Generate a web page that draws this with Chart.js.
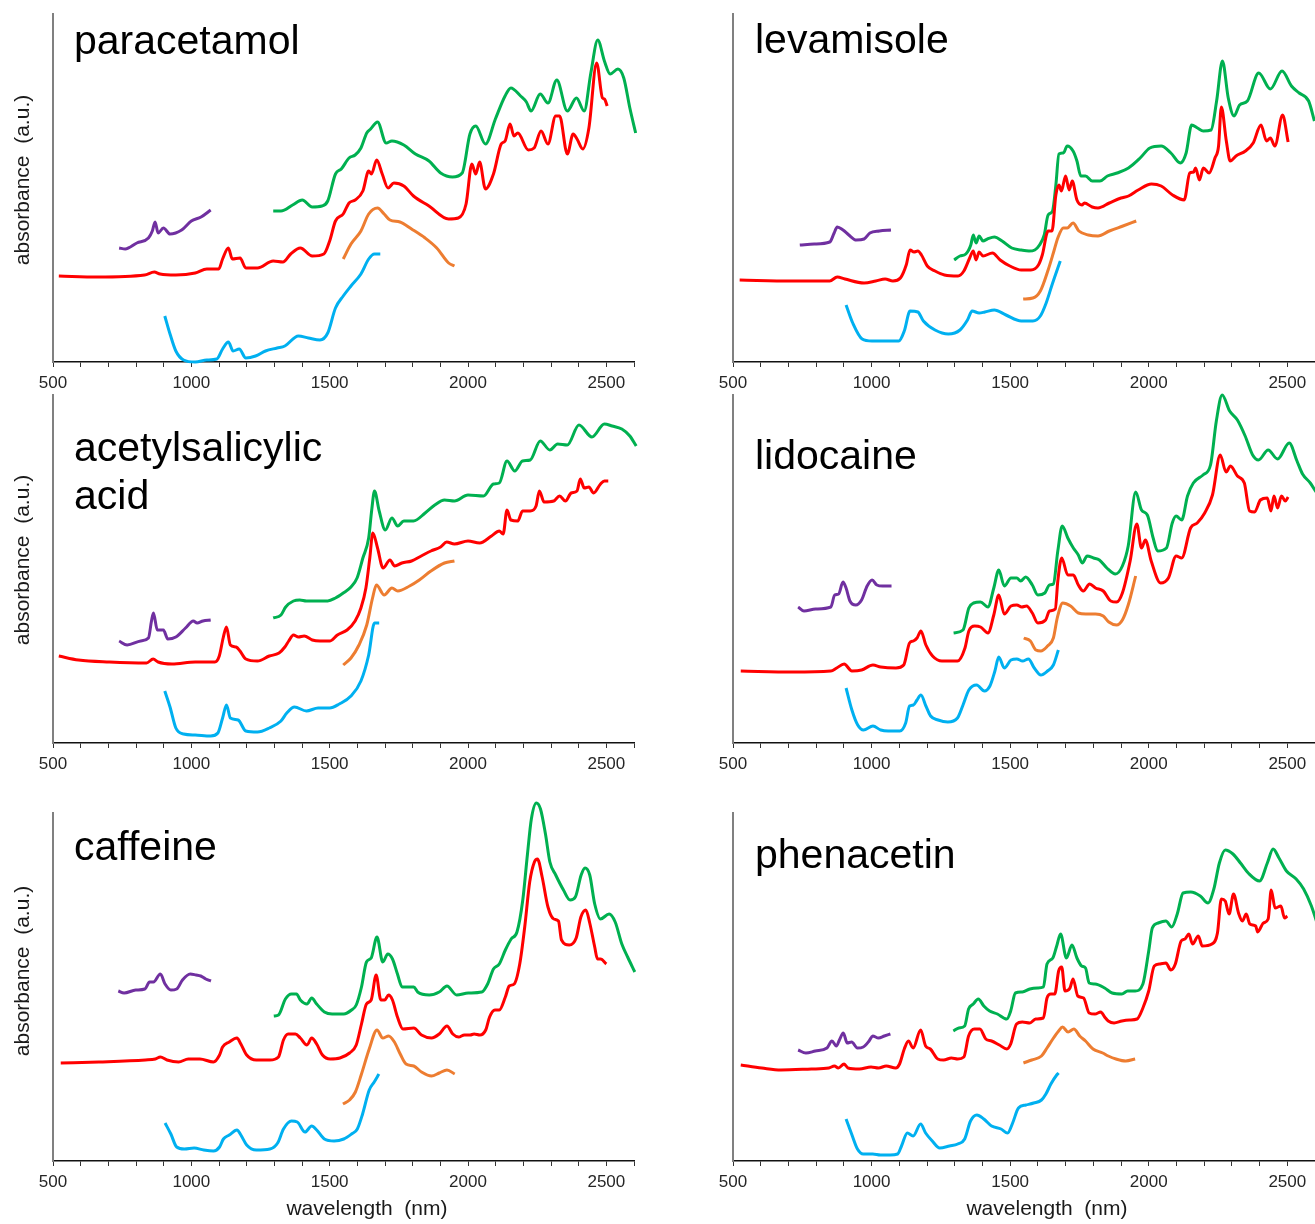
<!DOCTYPE html>
<html lang="en">
<head>
<meta charset="UTF-8">
<title>NIR spectra of six drugs</title>
<style>
    body { margin: 0; background: #fff; }
    #wrap { position: relative; width: 1315px; height: 1224px; overflow: hidden;
            font-family: "Liberation Sans", Arial, sans-serif; }
    canvas { position: absolute; }
    .name { position: absolute; font-size: 41px; line-height: 48px; color: #000; white-space: nowrap; }
    .ytitle { position: absolute; width: 240px; height: 24px; line-height: 24px; font-size: 21px;
              text-align: center; transform: rotate(-90deg); white-space: pre; color: #1a1a1a; }
    .xtitle { position: absolute; width: 240px; line-height: 24px; font-size: 21px;
              text-align: center; white-space: pre; color: #1a1a1a; }
</style>
<script src="https://cdn.jsdelivr.net/npm/chart.js"></script>
</head>
<body>
<div id="wrap">
    <canvas id="c1" width="625" height="400" style="left:25px;top:0px"></canvas>
    <canvas id="c2" width="616" height="400" style="left:705px;top:0px"></canvas>
    <canvas id="c3" width="625" height="400" style="left:25px;top:381px"></canvas>
    <canvas id="c4" width="616" height="400" style="left:705px;top:381px"></canvas>
    <canvas id="c5" width="625" height="400" style="left:25px;top:799px"></canvas>
    <canvas id="c6" width="616" height="400" style="left:705px;top:799px"></canvas>

    <div class="name" style="left:74px;top:16px">paracetamol</div>
    <div class="name" style="left:755px;top:15px">levamisole</div>
    <div class="name" style="left:74px;top:423px">acetylsalicylic<br>acid</div>
    <div class="name" style="left:755px;top:431px">lidocaine</div>
    <div class="name" style="left:74px;top:822px">caffeine</div>
    <div class="name" style="left:755px;top:830px">phenacetin</div>

    <div class="ytitle" style="left:-98px;top:168px">absorbance  (a.u.)</div>
    <div class="ytitle" style="left:-98px;top:548px">absorbance  (a.u.)</div>
    <div class="ytitle" style="left:-98px;top:959px">absorbance  (a.u.)</div>
    <div class="xtitle" style="left:247px;top:1196px">wavelength  (nm)</div>
    <div class="xtitle" style="left:927px;top:1196px">wavelength  (nm)</div>
</div>

<script>
// wavelength (nm), absorbance (a.u., offset)
const xTickLabels = [500, 1000, 1500, 2000, 2500];
const seriesColors = ['#7030A0', '#FF0000', '#00B050', '#ED7D31', '#00B0F0'];

// paracetamol
const paracetamolPurple = [[739,114],[761,113],[803,119],[845,124],[859,131],[869,140],[880,129],[899,134],[923,128],[965,132],[1000,141],[1035,145],[1070,152]];
const paracetamolRed = [[521,86],[662,85],[831,87],[866,90],[887,88],[944,87],[1014,89],[1056,93],[1099,93],[1113,103],[1134,114],[1148,103],[1176,104],[1197,94],[1239,94],[1296,101],[1331,100],[1359,108],[1394,114],[1437,106],[1479,108],[1500,121],[1521,141],[1549,148],[1570,159],[1592,162],[1620,171],[1641,191],[1651,188],[1670,202],[1690,188],[1711,174],[1732,179],[1768,176],[1803,166],[1859,156],[1930,143],[1965,144],[1993,158],[2014,198],[2028,188],[2042,200],[2063,173],[2092,188],[2120,218],[2134,221],[2152,238],[2166,226],[2180,229],[2218,212],[2239,214],[2264,231],[2289,218],[2317,246],[2331,246],[2359,208],[2380,228],[2394,223],[2415,213],[2437,234],[2465,299],[2486,264],[2493,263],[2503,256]];
const paracetamolGreen = [[1296,151],[1324,151],[1366,157],[1401,162],[1437,155],[1472,156],[1493,161],[1521,188],[1542,193],[1570,204],[1592,207],[1613,214],[1634,229],[1648,233],[1673,240],[1704,219],[1725,221],[1768,217],[1810,208],[1859,201],[1901,189],[1944,185],[1979,189],[2007,228],[2028,236],[2063,218],[2099,243],[2134,266],[2155,274],[2190,266],[2211,260],[2228,251],[2261,268],[2289,259],[2321,282],[2359,251],[2392,264],[2420,251],[2444,289],[2469,322],[2493,301],[2514,288],[2542,293],[2563,284],[2585,254],[2606,229]];
const paracetamolOrange = [[1549,103],[1577,118],[1613,131],[1641,148],[1673,154],[1697,148],[1718,142],[1754,140],[1796,133],[1845,124],[1887,114],[1930,99],[1951,96]];
const paracetamolBlue = [[904,46],[923,28],[944,11],[972,2],[1014,0],[1056,2],[1092,3],[1113,13],[1134,20],[1151,11],[1173,13],[1197,4],[1232,6],[1268,11],[1310,14],[1338,16],[1387,26],[1423,24],[1465,22],[1493,29],[1521,54],[1549,66],[1577,76],[1613,88],[1641,103],[1662,108],[1683,108]];

// levamisole
const levamisolePurple = [[741,117],[793,118],[849,120],[865,129],[876,135],[897,132],[918,127],[945,122],[973,123],[994,129],[1028,131],[1070,132]];
const levamisoleRed = [[524,82],[710,81],[849,81],[876,85],[904,83],[973,79],[1015,81],[1049,83],[1077,81],[1104,84],[1125,97],[1139,112],[1153,110],[1167,111],[1180,107],[1201,96],[1229,91],[1263,87],[1312,86],[1333,91],[1354,104],[1367,111],[1377,102],[1388,110],[1402,106],[1436,109],[1464,102],[1499,96],[1540,92],[1575,92],[1602,97],[1616,107],[1637,131],[1651,131],[1665,167],[1676,177],[1685,171],[1700,186],[1713,172],[1724,181],[1741,162],[1759,157],[1768,159],[1796,155],[1817,154],[1858,159],[1900,164],[1927,166],[1962,172],[2010,178],[2045,176],[2086,167],[2128,162],[2148,189],[2162,190],[2169,194],[2183,182],[2197,194],[2218,189],[2239,204],[2252,216],[2262,255],[2280,221],[2294,201],[2315,206],[2349,211],[2377,219],[2405,237],[2425,221],[2439,224],[2455,216],[2483,247],[2503,220]];
const levamisoleGreen = [[1298,102],[1319,106],[1340,108],[1358,117],[1367,127],[1377,119],[1388,126],[1402,121],[1418,123],[1443,125],[1471,121],[1506,114],[1540,112],[1568,111],[1589,112],[1606,117],[1623,127],[1637,147],[1653,151],[1665,177],[1676,208],[1692,209],[1706,216],[1727,211],[1741,201],[1755,186],[1772,186],[1796,181],[1824,181],[1851,186],[1886,189],[1927,194],[1969,204],[2004,214],[2045,216],[2080,209],[2114,199],[2135,209],[2155,237],[2176,234],[2197,231],[2225,232],[2245,261],[2266,301],[2287,264],[2308,246],[2328,257],[2356,261],[2397,289],[2439,273],[2481,291],[2515,276],[2543,269],[2577,261],[2598,241]];
const levamisoleOrange = [[1547,63],[1582,64],[1609,71],[1637,92],[1658,111],[1672,124],[1692,134],[1706,134],[1727,139],[1748,131],[1782,127],[1817,126],[1858,131],[1907,136],[1955,141]];
const levamisoleBlue = [[908,57],[932,39],[966,23],[1001,21],[1056,21],[1098,21],[1118,31],[1139,51],[1167,50],[1187,41],[1229,32],[1277,28],[1319,32],[1346,42],[1363,51],[1388,49],[1409,50],[1443,52],[1485,47],[1540,41],[1582,41],[1609,46],[1630,59],[1651,77],[1672,94],[1681,101]];

// acetylsalicylic acid
const asaPurple = [[739,102],[768,98],[817,102],[845,105],[856,122],[863,130],[877,113],[899,113],[915,104],[944,106],[979,115],[1007,122],[1021,120],[1042,122],[1070,123]];
const asaRed = [[521,87],[592,83],[704,81],[838,80],[862,84],[880,81],[930,79],[1014,81],[1085,81],[1101,87],[1115,105],[1127,116],[1141,98],[1162,96],[1176,92],[1197,84],[1239,82],[1282,87],[1317,90],[1338,96],[1352,102],[1369,108],[1387,106],[1408,107],[1437,103],[1465,102],[1500,102],[1528,108],[1563,113],[1592,122],[1613,135],[1631,155],[1645,185],[1656,210],[1673,195],[1693,175],[1718,183],[1735,177],[1761,180],[1796,182],[1831,187],[1866,192],[1901,196],[1923,201],[1951,199],[2000,202],[2042,200],[2085,207],[2113,212],[2127,209],[2141,233],[2155,223],[2180,222],[2197,232],[2225,232],[2246,237],[2258,252],[2275,241],[2310,242],[2331,247],[2352,242],[2373,250],[2394,252],[2406,264],[2420,255],[2437,256],[2454,250],[2479,259],[2493,262],[2507,262]];
const asaGreen = [[1296,125],[1324,128],[1341,136],[1369,142],[1392,143],[1416,142],[1451,142],[1493,142],[1521,145],[1549,150],[1577,156],[1599,165],[1620,185],[1641,205],[1652,233],[1662,252],[1679,232],[1701,213],[1725,225],[1746,217],[1768,222],[1803,222],[1845,230],[1880,238],[1915,243],[1951,242],[2000,248],[2056,247],[2092,259],[2113,260],[2141,282],[2169,272],[2197,282],[2225,283],[2261,302],[2296,293],[2324,299],[2359,298],[2401,318],[2448,306],[2493,319],[2521,317],[2556,314],[2585,307],[2608,297]];
const asaOrange = [[1549,78],[1577,85],[1606,98],[1634,118],[1655,145],[1669,158],[1697,148],[1725,155],[1746,152],[1789,157],[1824,163],[1866,172],[1915,180],[1951,182]];
const asaBlue = [[904,52],[923,36],[944,15],[972,9],[1014,8],[1070,7],[1096,10],[1113,25],[1127,38],[1141,25],[1169,23],[1197,12],[1239,11],[1282,15],[1324,22],[1345,30],[1373,36],[1416,32],[1458,35],[1500,35],[1535,39],[1577,47],[1613,62],[1641,88],[1662,120],[1679,120]];

// lidocaine
const lidoPurple = [[735,136],[756,132],[798,134],[853,136],[867,148],[881,149],[897,161],[908,155],[922,142],[943,138],[964,143],[984,157],[1002,163],[1019,158],[1040,157],[1072,157]];
const lidoRed = [[528,72],[715,71],[853,72],[874,75],[901,79],[929,72],[964,73],[1005,78],[1033,76],[1088,75],[1116,78],[1137,100],[1151,102],[1164,105],[1178,112],[1196,98],[1220,87],[1254,82],[1310,82],[1337,95],[1351,112],[1372,117],[1393,116],[1420,110],[1441,128],[1459,148],[1479,129],[1503,137],[1524,138],[1542,136],[1559,137],[1580,130],[1600,120],[1628,123],[1642,132],[1663,134],[1672,162],[1686,185],[1708,168],[1728,168],[1746,158],[1764,152],[1787,159],[1808,155],[1836,152],[1863,142],[1884,141],[1905,150],[1933,182],[1957,219],[1974,195],[1988,203],[2009,182],[2043,160],[2071,165],[2099,187],[2119,185],[2151,215],[2175,220],[2202,230],[2230,248],[2258,288],[2279,271],[2295,277],[2320,267],[2345,260],[2364,232],[2382,231],[2403,243],[2428,245],[2441,232],[2452,247],[2465,235],[2479,247],[2493,242],[2503,246]];
const lidoGreen = [[1296,110],[1330,113],[1351,135],[1368,140],[1393,141],[1420,136],[1441,155],[1459,173],[1479,157],[1503,165],[1524,165],[1538,162],[1556,166],[1580,158],[1600,148],[1625,150],[1642,158],[1656,159],[1672,192],[1688,217],[1708,205],[1728,195],[1746,188],[1760,180],[1778,187],[1801,185],[1822,183],[1849,175],[1880,169],[1905,177],[1926,197],[1953,251],[1974,233],[1995,228],[2016,205],[2032,192],[2064,195],[2085,220],[2099,227],[2119,223],[2140,247],[2161,260],[2196,268],[2223,278],[2244,322],[2265,348],[2292,332],[2320,323],[2348,307],[2375,288],[2396,283],[2431,293],[2465,284],[2507,300],[2535,282],[2555,269],[2583,260],[2604,251]];
const lidoOrange = [[1549,105],[1573,102],[1593,93],[1611,92],[1635,97],[1656,105],[1670,125],[1690,140],[1718,137],[1746,130],[1773,129],[1808,129],[1836,127],[1856,121],[1884,118],[1905,123],[1926,138],[1953,167]];
const lidoBlue = [[908,55],[929,33],[950,18],[971,13],[1005,17],[1033,13],[1060,12],[1102,12],[1123,20],[1137,37],[1151,38],[1164,43],[1178,48],[1196,37],[1213,27],[1240,23],[1275,21],[1310,25],[1330,38],[1351,53],[1379,58],[1407,52],[1427,57],[1445,72],[1459,86],[1479,75],[1503,83],[1524,84],[1545,82],[1566,84],[1587,75],[1611,68],[1635,72],[1656,78],[1674,93]];

// caffeine
const cafPurple = [[736,170],[757,168],[799,171],[832,172],[849,179],[863,179],[888,187],[905,177],[926,171],[947,172],[968,181],[996,187],[1017,186],[1034,185],[1052,182],[1071,180]];
const cafRed = [[528,98],[666,99],[834,101],[870,102],[888,104],[912,101],[954,99],[989,102],[1031,102],[1080,99],[1102,106],[1113,114],[1137,119],[1165,123],[1179,117],[1200,106],[1235,101],[1284,101],[1315,104],[1333,121],[1350,127],[1376,127],[1394,123],[1418,116],[1435,123],[1453,117],[1474,106],[1502,102],[1537,103],[1572,108],[1596,116],[1615,137],[1633,157],[1650,161],[1668,186],[1685,161],[1699,161],[1713,166],[1727,161],[1745,144],[1765,132],[1804,133],[1832,126],[1868,123],[1896,127],[1924,135],[1945,127],[1966,124],[1987,126],[2008,126],[2022,127],[2043,126],[2064,131],[2078,144],[2097,151],[2113,151],[2135,164],[2149,175],[2167,177],[2187,197],[2205,234],[2223,279],[2240,299],[2251,302],[2268,284],[2289,254],[2310,242],[2327,240],[2338,221],[2366,216],[2391,223],[2408,244],[2426,251],[2440,238],[2458,214],[2468,202],[2479,202],[2500,197]];
const cafGreen = [[1298,145],[1315,146],[1340,162],[1362,167],[1380,167],[1394,161],[1418,157],[1435,163],[1453,157],[1481,149],[1509,147],[1551,147],[1579,151],[1596,156],[1615,174],[1633,199],[1650,203],[1671,224],[1692,199],[1710,207],[1727,202],[1745,187],[1762,174],[1804,174],[1818,169],[1860,166],[1896,169],[1924,175],[1959,166],[2001,168],[2050,169],[2071,177],[2092,192],[2113,197],[2135,211],[2156,222],[2177,229],[2198,261],[2215,307],[2229,342],[2247,358],[2262,352],[2280,327],[2296,299],[2317,286],[2345,271],[2369,261],[2388,264],[2409,286],[2423,293],[2440,286],[2458,257],[2479,242],[2510,247],[2532,239],[2556,217],[2577,204],[2603,189]];
const cafOrange = [[1548,57],[1572,61],[1593,69],[1615,87],[1643,112],[1671,131],[1692,123],[1713,125],[1734,119],[1755,107],[1776,97],[1804,95],[1832,89],[1868,85],[1896,88],[1924,91],[1952,87]];
const cafBlue = [[905,38],[926,27],[947,14],[975,12],[1010,13],[1045,11],[1080,10],[1102,14],[1116,22],[1137,26],[1165,31],[1179,26],[1200,16],[1235,11],[1284,12],[1312,18],[1333,32],[1362,40],[1383,39],[1411,29],[1435,35],[1453,31],[1481,22],[1516,20],[1551,22],[1579,27],[1600,32],[1619,47],[1643,71],[1661,79],[1678,87]];

// phenacetin
const phePurple = [[735,111],[763,108],[797,110],[839,113],[857,120],[873,115],[884,121],[898,128],[912,118],[928,119],[949,113],[970,114],[991,120],[1004,125],[1025,123],[1046,125],[1068,127]];
const pheRed = [[528,96],[604,93],[673,91],[783,92],[846,93],[866,95],[880,93],[901,97],[915,93],[956,92],[998,94],[1025,93],[1053,95],[1087,93],[1101,97],[1118,112],[1133,120],[1150,113],[1177,131],[1195,115],[1212,112],[1239,102],[1260,101],[1288,103],[1311,102],[1333,104],[1350,125],[1371,132],[1391,132],[1412,122],[1433,120],[1461,116],[1488,112],[1502,117],[1523,137],[1544,139],[1571,138],[1592,142],[1620,143],[1633,163],[1647,167],[1661,167],[1675,190],[1686,194],[1698,170],[1716,173],[1727,182],[1744,165],[1765,163],[1785,148],[1806,147],[1827,149],[1841,144],[1854,140],[1875,138],[1903,140],[1931,141],[1958,142],[1979,153],[2000,170],[2020,195],[2041,197],[2062,198],[2080,191],[2096,197],[2117,220],[2131,222],[2145,227],[2158,217],[2179,225],[2193,215],[2228,217],[2248,228],[2262,262],[2276,260],[2290,247],[2306,267],[2324,248],[2338,240],[2352,247],[2365,237],[2386,235],[2393,229],[2414,238],[2431,242],[2442,271],[2456,253],[2477,255],[2490,243],[2500,245]];
const pheGreen = [[1295,130],[1315,133],[1336,135],[1350,152],[1367,157],[1385,162],[1405,155],[1426,150],[1454,147],[1488,142],[1502,150],[1519,168],[1544,169],[1571,172],[1599,173],[1620,174],[1633,197],[1654,203],[1668,215],[1682,227],[1703,203],[1723,216],[1741,203],[1758,195],[1772,193],[1785,178],[1806,177],[1841,173],[1868,168],[1903,167],[1924,170],[1951,170],[1979,177],[2000,210],[2013,233],[2034,238],[2062,240],[2083,234],[2103,247],[2124,268],[2152,269],[2186,265],[2214,258],[2235,272],[2255,298],[2276,311],[2304,307],[2331,298],[2359,288],[2400,280],[2428,298],[2449,312],[2470,303],[2497,290],[2532,282],[2559,272],[2587,255],[2605,240]];
const pheOrange = [[1548,98],[1578,101],[1613,105],[1633,113],[1654,122],[1675,130],[1689,134],[1709,129],[1730,132],[1751,125],[1772,120],[1799,112],[1834,108],[1854,105],[1882,102],[1917,100],[1951,102]];
const pheBlue = [[908,42],[928,27],[949,12],[970,7],[1004,7],[1032,6],[1067,6],[1094,7],[1108,15],[1129,28],[1150,25],[1177,37],[1195,28],[1219,20],[1246,13],[1281,15],[1311,17],[1336,22],[1357,40],[1380,46],[1405,42],[1433,35],[1467,32],[1491,28],[1509,38],[1530,53],[1557,56],[1585,58],[1613,61],[1629,67],[1647,77],[1668,86],[1675,88]];

const FONT = '"Liberation Sans", Arial, sans-serif';

function makeChart(id, series, padRight) {
    new Chart(document.getElementById(id), {
        type: 'line',
        data: {
            datasets: series.map((pts, i) => ({
                data: pts.map(([x, y]) => ({ x, y })),
                borderColor: seriesColors[i],
                borderWidth: 3,
                pointRadius: 0,
                fill: false,
                cubicInterpolationMode: 'monotone',
                clip: false
            }))
        },
        options: {
            responsive: false,
            animation: false,
            layout: { padding: { left: 28, right: padRight, top: 14, bottom: 8 } },
            plugins: { legend: { display: false }, tooltip: { enabled: false } },
            scales: {
                x: {
                    type: 'linear', min: 500, max: 2600,
                    afterFit: s => { s.height = 30; },
                    ticks: {
                        stepSize: 100, autoSkip: false, maxRotation: 0, padding: 6,
                        color: '#262626', font: { family: FONT, size: 17 },
                        callback: v => xTickLabels.includes(Math.round(v)) ? String(Math.round(v)) : ''
                    },
                    grid: { drawOnChartArea: false, drawTicks: true, tickLength: 5, color: '#333' },
                    border: { color: '#111', width: 1.5 }
                },
                y: {
                    min: 0, max: 348,
                    afterFit: s => { s.width = 0; },
                    ticks: { display: false },
                    grid: { display: false },
                    border: { color: '#808080', width: 2 }
                }
            }
        }
    });
}

makeChart('c1', [paracetamolPurple, paracetamolRed, paracetamolGreen, paracetamolOrange, paracetamolBlue], 16);
makeChart('c2', [levamisolePurple, levamisoleRed, levamisoleGreen, levamisoleOrange, levamisoleBlue], 0);
makeChart('c3', [asaPurple, asaRed, asaGreen, asaOrange, asaBlue], 16);
makeChart('c4', [lidoPurple, lidoRed, lidoGreen, lidoOrange, lidoBlue], 0);
makeChart('c5', [cafPurple, cafRed, cafGreen, cafOrange, cafBlue], 16);
makeChart('c6', [phePurple, pheRed, pheGreen, pheOrange, pheBlue], 0);
</script>
</body>
</html>
